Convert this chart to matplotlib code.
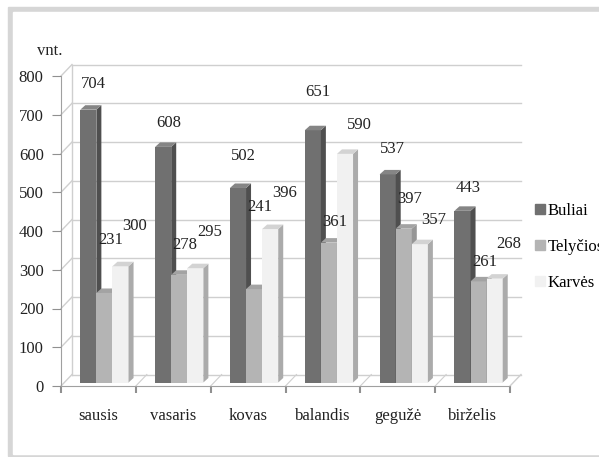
import matplotlib
matplotlib.use("Agg")
import matplotlib.pyplot as plt
from matplotlib.patches import Polygon, Rectangle, Patch
import numpy as np

plt.rcParams['font.family'] = ['Liberation Serif', 'DejaVu Serif']

# data
months = ['sausis', 'vasaris', 'kovas', 'balandis', 'gegužė', 'birželis']
series = ['Buliai', 'Telyčios', 'Karvės']
buliai = [704, 608, 502, 651, 537, 443]
telycios = [231, 278, 241, 361, 397, 261]
karves = [300, 295, 396, 590, 357, 268]
values = [buliai, telycios, karves]

# where excel put the value labels (lift above bar top, in value units)
label_lift = [
    [75, 71, 92, 108, 75, 68],
    [146, 86, 221, 62, 86, 59],
    [113, 102, 102, 84, 71, 98],
]
label_dx = [0.07, 0.08, 0.19]

front = ['#707070', '#b4b4b4', '#f1f1f1']
side = ['#4f4f4f', '#969696', '#ababab']
top = ['#858585', '#a3a3a3', '#d3d3d3']

W, H = 599, 457
fig = plt.figure(figsize=(W / 100, H / 100), dpi=100)

# grey frame (left/top thick, bottom thin)
fig.patches.append(Rectangle((8 / W, 1 - 456 / H), 1, 449 / H,
                             transform=fig.transFigure, color='#d6d6d6', zorder=-5))
fig.patches.append(Rectangle((13 / W, 1 - 454 / H), 1, 442 / H,
                             transform=fig.transFigure, color='white', zorder=-4))

# axes: front plane, x 61..510 px, y 386..76 px
ax = fig.add_axes([61 / W, 1 - 386 / H, 449 / W, 310 / H])
ax.set_zorder(2)
ax.set_xlim(0, 6)
ax.set_ylim(0, 800)
ax.patch.set_alpha(0)

DX = 11 / 74.83      # wall depth in category units
DY = 11.5 / 0.3875   # wall depth in value units
HX, HY = 6 / 74.83, 3.5 / 0.3875   # where the bar fronts sit
BDX, BDY = 5 / 74.83, 4.5 / 0.3875
grid_c = '#cfcfcf'

# back wall gridlines + side diagonals
for v in range(0, 900, 100):
    ax.plot([DX, 6 + DX], [v + DY, v + DY], color=grid_c, lw=1, clip_on=False, zorder=1)
    ax.plot([0, DX], [v, v + DY], color=grid_c, lw=1, clip_on=False, zorder=1)
ax.plot([DX, DX], [DY, 800 + DY], color=grid_c, lw=1, clip_on=False, zorder=1)
ax.plot([6, 6 + DX], [0, DY], color=grid_c, lw=1, clip_on=False, zorder=1)
for i in range(1, 6):
    ax.plot([i, i + DX], [0, DY], color=grid_c, lw=0.8, clip_on=False, zorder=1)

w = 0.215
x = np.arange(len(months))
for j in range(3):
    xc = x + 0.5 + HX + (j - 1) * w
    ax.bar(xc, values[j], width=w, bottom=HY, color=front[j], zorder=3,
           clip_on=False, label=series[j])

# side and top faces, drawn group by group left to right
for i in range(len(months)):
    for j in range(3):
        v = values[j][i]
        x0 = i + 0.5 + HX + (j - 1) * w - w / 2
        x1 = x0 + w
        z = 4 + i * 3 + j
        ax.add_patch(Polygon([(x1, HY), (x1 + BDX, HY + BDY), (x1 + BDX, v + HY + BDY),
                              (x1, v + HY)], closed=True, color=side[j], zorder=z,
                             clip_on=False, lw=0))
        ax.add_patch(Polygon([(x0, v + HY), (x0 + BDX, v + HY + BDY), (x1 + BDX, v + HY + BDY),
                              (x1, v + HY)], closed=True, color=top[j], zorder=z,
                             clip_on=False, lw=0))
        if j < 2:
            # next bar's front covers this side
            ax.add_patch(Rectangle((x1, HY), w, values[j + 1][i], color=front[j + 1],
                                   zorder=z + 0.5, clip_on=False, lw=0))
        ax.text(i + 0.5 + HX + (j - 1) * w + label_dx[j], v + label_lift[j][i], str(v),
                ha='center', va='center', fontsize=12, color='#222222', zorder=30)

# axes styling
for s in ['top', 'right']:
    ax.spines[s].set_visible(False)
ax.spines['left'].set_color('#a0a0a0')
ax.spines['bottom'].set_color('#a0a0a0')
ax.set_yticks(range(0, 900, 100))
ax.tick_params(axis='y', length=6.5, color='#909090', labelsize=12, pad=6, labelcolor='#222222')
ax.set_xticks(x + 0.5)
ax.set_xticklabels(months)
ax.set_xticks(range(0, 7), minor=True)
ax.tick_params(axis='x', which='major', length=0, labelsize=12, pad=16, labelcolor='#222222')
ax.tick_params(axis='x', which='minor', length=5, color='#909090', width=1.5)

fig.text(50 / W, 1 - 51 / H, 'vnt.', ha='center', va='center', fontsize=12, color='#222222')

handles = [Patch(color=front[j], label=series[j]) for j in range(3)]
fig.legend(handles=handles, loc='upper left', bbox_to_anchor=(535 / W, 1 - 203 / H),
           frameon=False, fontsize=12, handlelength=0.6, handleheight=0.6,
           handletextpad=0.15, labelspacing=1.2, borderpad=0, borderaxespad=0)

fig.savefig('out.png', dpi=100)
